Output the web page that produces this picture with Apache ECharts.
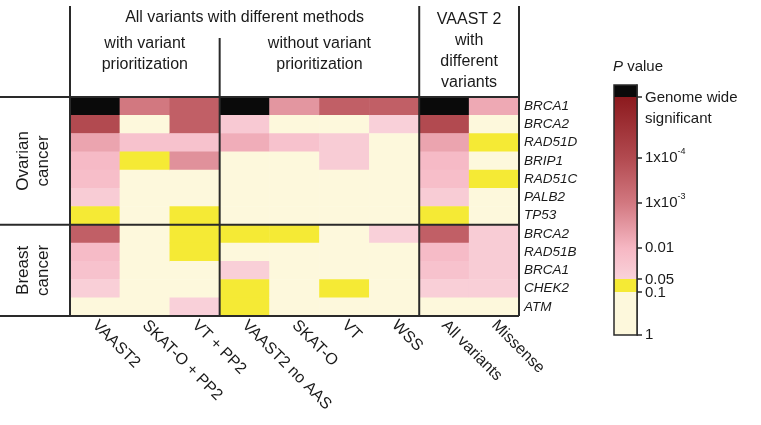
<!DOCTYPE html>
<html>
<head>
<meta charset="utf-8">
<script src="https://cdn.jsdelivr.net/npm/echarts@6/dist/echarts.min.js"></script>
<style>
  html, body { margin: 0; padding: 0; background: #fff; }
  #main { width: 761px; height: 425px; }
</style>
</head>
<body>
<div id="main"></div>
<script>
// rows top to bottom (first 7 ovarian cancer, last 5 breast cancer)
const genes = ['BRCA1', 'BRCA2', 'RAD51D', 'BRIP1', 'RAD51C', 'PALB2', 'TP53',
               'BRCA2', 'RAD51B', 'BRCA1', 'CHEK2', 'ATM'];
const methods = ['VAAST2', 'SKAT-O + PP2', 'VT + PP2', 'VAAST2 no AAS', 'SKAT-O', 'VT', 'WSS',
                 'All variants', 'Missense'];

// estimated p values per method (rows as in genes); GW = genome wide significant
const GW = 1e-7;
const pVAAST2      = [GW, 1e-4, 5e-3, 0.012, 0.015, 0.035, 0.07, 3e-4, 0.013, 0.02, 0.04, 0.5];
const pSKATO_PP2   = [1e-3, 0.5, 0.02, 0.07, 0.5, 0.5, 0.5, 0.5, 0.5, 0.5, 0.5, 0.5];
const pVT_PP2      = [3e-4, 3e-4, 0.02, 2.5e-3, 0.5, 0.5, 0.07, 0.07, 0.07, 0.5, 0.5, 0.045];
const pVAAST2noAAS = [GW, 0.03, 7e-3, 0.5, 0.5, 0.5, 0.5, 0.07, 0.5, 0.04, 0.07, 0.07];
const pSKATO       = [3e-3, 0.5, 0.02, 0.5, 0.5, 0.5, 0.5, 0.07, 0.5, 0.5, 0.5, 0.5];
const pVT          = [3e-4, 0.5, 0.035, 0.035, 0.5, 0.5, 0.5, 0.5, 0.5, 0.5, 0.07, 0.5];
const pWSS         = [3e-4, 0.045, 0.5, 0.5, 0.5, 0.5, 0.5, 0.045, 0.5, 0.5, 0.5, 0.5];
const pAllVariants = [GW, 1e-4, 5e-3, 0.012, 0.015, 0.035, 0.07, 3e-4, 0.013, 0.02, 0.04, 0.5];
const pMissense    = [6e-3, 0.5, 0.07, 0.5, 0.07, 0.5, 0.5, 0.035, 0.035, 0.035, 0.04, 0.5];
const pColumns = [pVAAST2, pSKATO_PP2, pVT_PP2, pVAAST2noAAS, pSKATO, pVT, pWSS, pAllVariants, pMissense];

// colour bar scale: p value -> position on bar (0 = p of 1, 250 = top)
const scaleP   = [1, 0.1, 0.05, 0.01, 1e-3, 1e-4, 2.5e-6];
const scalePos = [0, 43, 56, 87, 132, 177, 238];
const BAR_MAX = 250;
const tickLabels = ['1', '0.1', '0.05', '0.01', '1x10{sup|-3}', '1x10{sup|-4}', 'Genome wide\nsignificant'];

const CREAM = '#fdf8dc', YELLOW = '#f5ea35', BLACK = '#0a0a0a';
// gradient stops (position, colour) for the pink-to-red part
const redStops = [[56, '#f9d2da'], [87, '#f6b7c3'], [132, '#d27880'], [177, '#b24a50'], [238, '#8c1a1e']];

function posOf(p) {
  if (p <= scaleP[scaleP.length - 1]) return 245;
  const lp = Math.log10(p);
  for (let i = 1; i < scaleP.length; i++) {
    const a = Math.log10(scaleP[i - 1]), b = Math.log10(scaleP[i]);
    if (lp >= b) return scalePos[i - 1] + (lp - a) / (b - a) * (scalePos[i] - scalePos[i - 1]);
  }
  return 245;
}
function hex2rgb(h) { return [1, 3, 5].map(i => parseInt(h.substr(i, 2), 16)); }
function colorAt(pos) {
  if (pos < scalePos[1]) return CREAM;
  if (pos < scalePos[2]) return YELLOW;
  if (pos > 238.5) return BLACK;
  for (let i = 1; i < redStops.length; i++) {
    if (pos <= redStops[i][0]) {
      const t = (pos - redStops[i - 1][0]) / (redStops[i][0] - redStops[i - 1][0]);
      const c0 = hex2rgb(redStops[i - 1][1]), c1 = hex2rgb(redStops[i][1]);
      return 'rgb(' + c0.map((v, k) => Math.round(v + (c1[k] - v) * t)).join(',') + ')';
    }
  }
  return redStops[redStops.length - 1][1];
}

const cells = [];
pColumns.forEach((col, x) => col.forEach((p, y) => cells.push([x, y, posOf(p)])));

const rampColors = [];
for (let i = 0; i <= BAR_MAX; i++) rampColors.push(colorAt(i));

const G = { left: 70, top: 97, width: 449, height: 219 };
const CB = { left: 614, top: 85, width: 23, height: 250 };
const FONT = '"Liberation Sans", Arial, sans-serif';
const INK = '#1a1a1a';

const chart = echarts.init(document.getElementById('main'));

const colX = k => G.left + G.width * k / methods.length;
const rowY = k => G.top + G.height * k / genes.length;
const bottom = G.top + G.height, right = G.left + G.width;
const lineStyle = { stroke: '#2a2a2a', lineWidth: 2 };
const ln = (x1, y1, x2, y2) => ({ type: 'line', shape: { x1, y1, x2, y2 }, style: lineStyle, z: 10 });
const txt = (x, y, text, extra) => ({
  type: 'text', x, y, z: 10,
  style: Object.assign({ text, font: '16px ' + FONT, fill: INK, align: 'center', verticalAlign: 'middle', lineHeight: 21 }, extra || {})
});

const graphics = [
  ln(colX(0), 6, colX(0), bottom),
  ln(colX(3), 38, colX(3), bottom),
  ln(colX(7), 6, colX(7), bottom),
  ln(right, 6, right, bottom),
  ln(0, G.top, right, G.top),
  ln(0, rowY(7), right, rowY(7)),
  ln(0, bottom, right, bottom),
  txt((colX(0) + colX(7)) / 2, 18, 'All variants with different methods'),
  txt((colX(0) + colX(3)) / 2, 54, 'with variant\nprioritization'),
  txt((colX(3) + colX(7)) / 2, 54, 'without variant\nprioritization'),
  txt((colX(7) + right) / 2, 51, 'VAAST 2\nwith\ndifferent\nvariants'),
  Object.assign(txt(33, (G.top + rowY(7)) / 2, 'Ovarian\ncancer', { font: '17px ' + FONT, lineHeight: 20 }), { rotation: Math.PI / 2 }),
  Object.assign(txt(33, (rowY(7) + bottom) / 2, 'Breast\ncancer', { font: '17px ' + FONT, lineHeight: 20 }), { rotation: Math.PI / 2 }),
  {
    type: 'text', x: CB.left - 1, y: 67, z: 10,
    style: {
      text: '{i|P} value', font: '15px ' + FONT, fill: INK, verticalAlign: 'middle',
      rich: { i: { fontStyle: 'italic', font: 'italic 15px ' + FONT, fill: INK } }
    }
  },
  { type: 'rect', shape: { x: CB.left, y: CB.top, width: CB.width, height: CB.height },
    style: { fill: null, stroke: '#2a2a2a', lineWidth: 1.5 }, z: 10 }
];

// colour bar segments from scale positions
const segCream = scalePos[1];
const segYellow = scalePos[2] - scalePos[1];
const segRed = scalePos[6] - scalePos[2];
const segBlack = BAR_MAX - scalePos[6];
const redGradient = new echarts.graphic.LinearGradient(0, 0, 0, 1,
  redStops.map(s => ({ offset: (238 - s[0]) / segRed, color: s[1] })).reverse());

const tickVals = scalePos.slice();
// label anchors: nudge the crowded 0.1 / 0.05 apart, two-line label below its tick
const labelVals = tickVals.map((v, i) => i === 6 ? v - 11 : i === 1 ? v - 1 : i === 2 ? v - 1 : v);

option = {
  animation: false,
  backgroundColor: '#fff',
  grid: [
    Object.assign({ containLabel: false }, G),
    Object.assign({ containLabel: false }, CB)
  ],
  xAxis: [
    {
      type: 'category', data: methods, gridIndex: 0,
      axisLine: { show: false }, axisTick: { show: false }, splitLine: { show: false },
      axisLabel: { rotate: -45, margin: 7, fontSize: 16, fontFamily: FONT, color: INK, interval: 0 }
    },
    { type: 'category', data: ['bar'], gridIndex: 1, show: false }
  ],
  yAxis: [
    {
      type: 'category', data: genes, gridIndex: 0, inverse: true, position: 'right',
      axisLine: { show: false }, axisTick: { show: false }, splitLine: { show: false },
      axisLabel: { margin: 5, fontSize: 13.5, fontStyle: 'italic', fontFamily: FONT, color: INK, interval: 0 }
    },
    {
      type: 'value', gridIndex: 1, min: 0, max: BAR_MAX, position: 'right',
      splitLine: { show: false },
      axisLine: { show: true, lineStyle: { color: '#2a2a2a', width: 1.5 } },
      axisTick: { show: true, length: 5, customValues: tickVals, lineStyle: { color: '#2a2a2a', width: 1.5 } },
      axisLabel: {
        margin: 8, fontSize: 15, fontFamily: FONT, color: INK, lineHeight: 21,
        customValues: labelVals,
        formatter: v => tickLabels[labelVals.indexOf(v)] || '',
        rich: { sup: { fontSize: 9, fontFamily: FONT, color: INK, verticalAlign: 'top', lineHeight: 12, padding: [0, 0, 6, 0] } }
      }
    }
  ],
  visualMap: {
    show: false, seriesIndex: 0, dimension: 2, min: 0, max: BAR_MAX,
    inRange: { color: rampColors }
  },
  series: [
    {
      type: 'heatmap', xAxisIndex: 0, yAxisIndex: 0, data: cells,
      itemStyle: { borderWidth: 0 }, emphasis: { disabled: true }
    },
    { type: 'bar', xAxisIndex: 1, yAxisIndex: 1, stack: 'cb', barWidth: '100%', data: [segCream], itemStyle: { color: CREAM } },
    { type: 'bar', xAxisIndex: 1, yAxisIndex: 1, stack: 'cb', barWidth: '100%', data: [segYellow], itemStyle: { color: YELLOW } },
    { type: 'bar', xAxisIndex: 1, yAxisIndex: 1, stack: 'cb', barWidth: '100%', data: [segRed], itemStyle: { color: redGradient } },
    { type: 'bar', xAxisIndex: 1, yAxisIndex: 1, stack: 'cb', barWidth: '100%', data: [segBlack], itemStyle: { color: BLACK } }
  ],
  graphic: graphics
};

chart.setOption(option);
</script>
</body>
</html>
